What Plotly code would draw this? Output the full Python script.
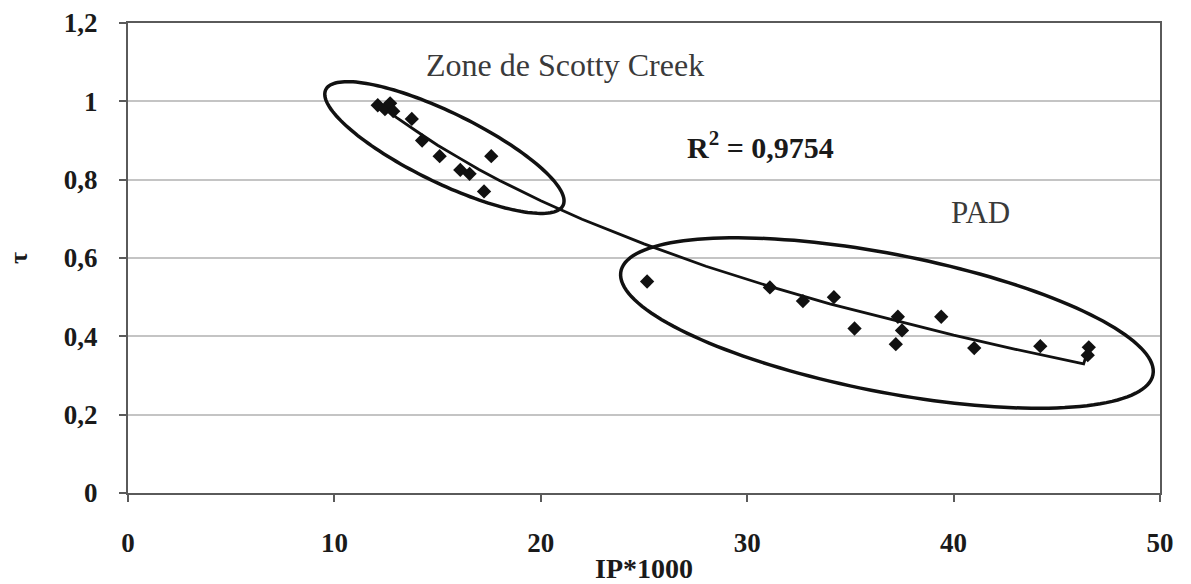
import numpy as np
import plotly.graph_objects as go

# values
scotty_x = [12.1, 12.45, 12.7, 12.85, 13.75, 14.25, 15.1, 16.1, 16.55, 17.25, 17.6]
scotty_y = [0.99, 0.98, 0.995, 0.975, 0.955, 0.90, 0.86, 0.825, 0.815, 0.77, 0.86]

pad_x = [25.15, 31.1, 32.7, 34.2, 35.2, 37.3, 37.5, 37.2, 39.4, 41.0, 44.2, 46.55, 46.5]
pad_y = [0.54, 0.525, 0.49, 0.50, 0.42, 0.45, 0.415, 0.38, 0.45, 0.37, 0.375, 0.372, 0.352]

# trend line as drawn in the picture (including the little hook at the end)
trend_x = [12.1, 13, 14, 15, 16, 17, 18, 20, 22, 25, 28, 31, 34, 37, 40, 43, 44.2, 46.3, 46.55]
trend_y = [0.995, 0.959, 0.923, 0.888, 0.857, 0.826, 0.798, 0.746, 0.699, 0.636, 0.579,
           0.529, 0.483, 0.442, 0.403, 0.367, 0.353, 0.330, 0.37]

x_ticks = [0, 10, 20, 30, 40, 50]
y_ticks = [0, 0.2, 0.4, 0.6, 0.8, 1.0, 1.2]

W, H = 1191, 584
# the page adds an 8px body margin, so the plot box is shifted back by that much
margin = dict(l=120, r=39, t=15, b=99)
x_range = [0, 50]
y_range = [0, 1.2]
FONT = 'Liberation Serif'


def ellipse_path(cx, cy, a_px, b_px, angle_deg, n=160):
    # ellipse defined in screen pixels, converted back to data units
    plot_w = W - margin['l'] - margin['r']
    plot_h = H - margin['t'] - margin['b']
    sx = plot_w / (x_range[1] - x_range[0])
    sy = plot_h / (y_range[1] - y_range[0])
    t = np.linspace(0, 2 * np.pi, n)
    ang = np.radians(angle_deg)
    u = a_px * np.cos(t)
    v = b_px * np.sin(t)
    dx = u * np.cos(ang) - v * np.sin(ang)
    dy = u * np.sin(ang) + v * np.cos(ang)
    xs = cx + dx / sx
    ys = cy - dy / sy
    pts = ['{:.4f},{:.4f}'.format(a, b) for a, b in zip(xs, ys)]
    return 'M ' + ' L '.join(pts) + ' Z'


fig = go.Figure()

fig.add_trace(go.Scatter(x=trend_x, y=trend_y, mode='lines',
                         line=dict(color='#111111', width=2.8), showlegend=False))
fig.add_trace(go.Scatter(x=scotty_x + pad_x, y=scotty_y + pad_y, mode='markers',
                         marker=dict(symbol='diamond', size=11, color='#111111'),
                         showlegend=False))

for cx, cy, a, b, ang in [(15.33, 0.882, 132, 35, 26), (36.77, 0.434, 271, 69, 11)]:
    fig.add_shape(type='path', path=ellipse_path(cx, cy, a, b, ang),
                  xref='x', yref='y', line=dict(color='#111111', width=3.5))

fig.add_annotation(x=21.17, y=1.093, xref='x', yref='y', text='Zone de Scotty Creek',
                   showarrow=False, font=dict(family=FONT, size=32, color='#3a3a3a'))
fig.add_annotation(x=30.62, y=0.888, xref='x', yref='y', text='<b>R<sup>2</sup> = 0,9754</b>',
                   showarrow=False, font=dict(family=FONT, size=30, color='#1a1a1a'))
fig.add_annotation(x=41.28, y=0.715, xref='x', yref='y', text='PAD',
                   showarrow=False, font=dict(family=FONT, size=31, color='#3a3a3a'))
# y axis title, placed by hand further left than the axis title allows
fig.add_annotation(x=-0.1066, y=0.5, xref='paper', yref='paper', text='<b>τ</b>',
                   textangle=-90, showarrow=False, xanchor='center', yanchor='middle',
                   font=dict(family=FONT, size=26, color='#1a1a1a'))

fig.update_layout(
    width=W, height=H,
    margin=margin,
    paper_bgcolor='white',
    plot_bgcolor='white',
    separators=', ',
    font=dict(family=FONT, color='#1a1a1a'),
    xaxis=dict(range=x_range, tickvals=x_ticks, showgrid=False, zeroline=False,
               automargin=False,
               showline=True, linecolor='#5a5a5a', linewidth=2, mirror=True,
               ticks='outside', ticklen=7, tickwidth=1.5, tickcolor='#5a5a5a',
               ticklabelstandoff=18,
               tickfont=dict(family=FONT, size=27, weight='bold'),
               title=dict(text='<b>IP*1000</b>', standoff=1,
                          font=dict(family=FONT, size=28))),
    yaxis=dict(range=y_range, tickvals=y_ticks, showgrid=True, gridcolor='#c4c4c4',
               gridwidth=1.5, zeroline=False, automargin=False,
               showline=True, linecolor='#5a5a5a', linewidth=2, mirror=True,
               ticks='outside', ticklen=7, tickwidth=1.5, tickcolor='#5a5a5a',
               ticklabelstandoff=16,
               tickfont=dict(family=FONT, size=27, weight='bold')),
)

fig.write_html("out.html")
